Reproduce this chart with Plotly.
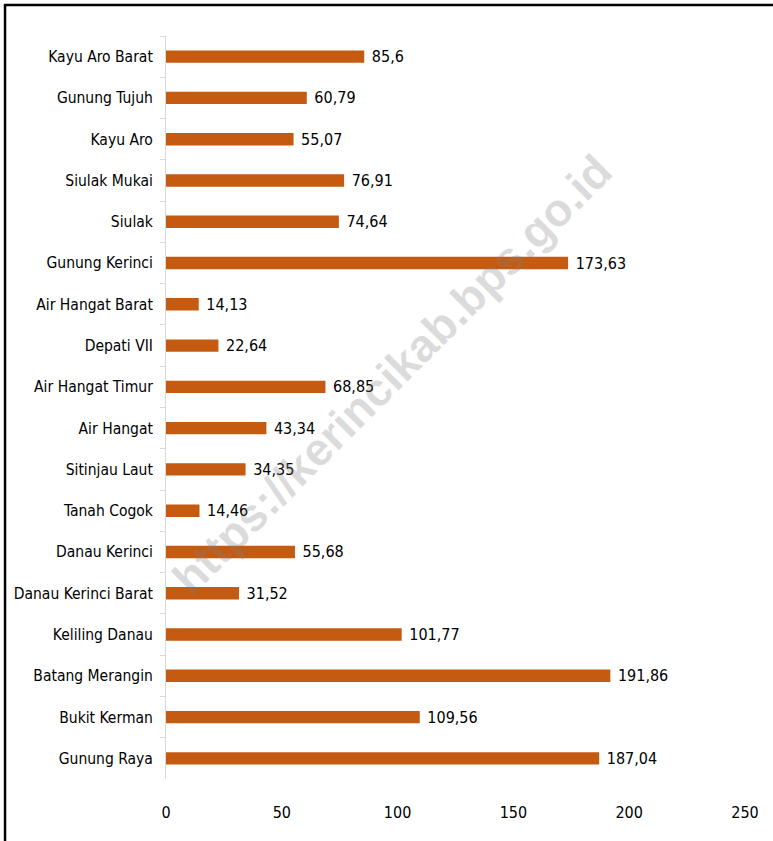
import plotly.graph_objects as go

categories = ["Kayu Aro Barat", "Gunung Tujuh", "Kayu Aro", "Siulak Mukai", "Siulak",
              "Gunung Kerinci", "Air Hangat Barat", "Depati VII", "Air Hangat Timur",
              "Air Hangat", "Sitinjau Laut", "Tanah Cogok", "Danau Kerinci",
              "Danau Kerinci Barat", "Keliling Danau", "Batang Merangin", "Bukit Kerman",
              "Gunung Raya"]
values = [85.6, 60.79, 55.07, 76.91, 74.64, 173.63, 14.13, 22.64, 68.85, 43.34,
          34.35, 14.46, 55.68, 31.52, 101.77, 191.86, 109.56, 187.04]
x_ticks = [0, 50, 100, 150, 200, 250]
labels = ["\u00a0" + str(v).replace(".", ",") for v in values]

FONT = "DejaVu Sans Condensed, Liberation Sans Narrow, Lato, sans-serif"
FS = 16

fig = go.Figure(go.Bar(
    y=categories, x=values, orientation="h",
    marker=dict(color="#C55A11", line=dict(width=0)),
    width=0.3,
    text=labels, textposition="outside", cliponaxis=False, constraintext="none",
    textfont=dict(family=FONT, size=FS, color="#000000"),
    hoverinfo="skip",
))

fig.update_layout(
    width=773, height=841,
    margin=dict(l=166, r=28, t=36, b=62),
    plot_bgcolor="white", paper_bgcolor="white",
    showlegend=False,
    font=dict(family=FONT, size=FS, color="#000000"),
    xaxis=dict(range=[0, 250], tickvals=x_ticks, showgrid=False, zeroline=False,
               showline=False, ticks="", ticklabelstandoff=22, automargin=False,
               tickfont=dict(family=FONT, size=FS)),
    yaxis=dict(autorange="reversed", showgrid=False, zeroline=False,
               showline=True, linecolor="#d9d9d9", linewidth=1, automargin=False,
               ticks="outside", tickson="boundaries", ticklen=5, tickcolor="#d9d9d9",
               ticklabelstandoff=9, tickfont=dict(family=FONT, size=15.5)),
    shapes=[
        dict(type="line", xref="paper", yref="paper", x0=-0.28, x1=1.1,
             y0=1 + 31/743, y1=1 + 31/743, line=dict(color="black", width=2.5)),
        dict(type="line", xref="paper", yref="paper", x0=-0.278, x1=-0.278,
             y0=1 + 31/743, y1=-0.2, line=dict(color="black", width=2.5)),
    ],
    annotations=[
        dict(text="<b>https://kerincikab.bps.go.id</b>", xref="paper", yref="paper",
             x=0.391, y=0.545, showarrow=False, textangle=-45,
             font=dict(family="Liberation Sans, Arial, sans-serif", size=46,
                       color="rgba(128,128,128,0.28)")),
    ],
)

fig.write_html("out.html", config={"displayModeBar": False},
               post_script="document.body.style.margin='0px';")
